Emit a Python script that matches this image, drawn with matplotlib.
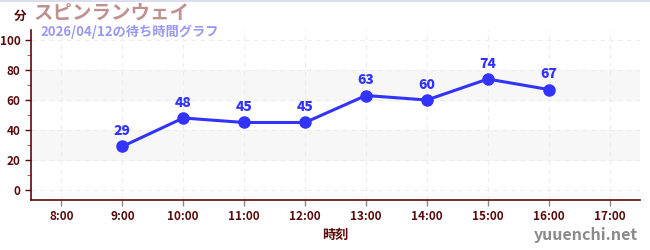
import numpy as np
import matplotlib.pyplot as plt
from matplotlib.ticker import MultipleLocator

plt.rcParams['font.family'] = ['Noto Sans CJK JP', 'DejaVu Sans']

# données
heures = [9, 10, 11, 12, 13, 14, 15, 16]
attente = [29, 48, 45, 45, 63, 60, 74, 67]
ticks_heures = [8, 9, 10, 11, 12, 13, 14, 15, 16, 17]
labels_heures = [f"{h}:00" for h in ticks_heures]
titre = "スピンランウェイ"
sous_titre = "2026/04/12の待ち時間グラフ"

axe_col = '#5a0a0a'
bleu = '#3333ff'

fig = plt.figure(figsize=(6.5, 2.5), dpi=100)
ax = fig.add_axes([31/650, 50/250, 609/650, 170/250])

ax.set_xlim(7.5, 17.5)
ax.set_ylim(-6.7, 106.7)

# bandes grises
ax.axhspan(20, 40, color='#f7f7f7', zorder=0)
ax.axhspan(60, 80, color='#f7f7f7', zorder=0)

ax.grid(True, color='#ececec', linestyle=(0, (4, 4)), linewidth=0.8, zorder=0)

ax.plot(heures, attente, color=bleu, linewidth=2.2, marker='o', markersize=8, zorder=3)
for h, v in zip(heures, attente):
    ax.annotate(str(v), (h, v), xytext=(0, 6), textcoords='offset points',
                ha='center', va='bottom', color=bleu, fontsize=10, fontweight='heavy')

ax.set_xticks(ticks_heures)
ax.set_xticklabels(labels_heures)
ax.yaxis.set_major_locator(MultipleLocator(20))
ax.yaxis.set_minor_locator(MultipleLocator(10))
ax.tick_params(axis='both', colors=axe_col, labelsize=8.5, width=1, length=4)
ax.tick_params(axis='y', which='minor', colors='#dd2222', length=3)
ax.tick_params(axis='x', colors='#888888', labelcolor=axe_col, length=4)
for lab in ax.get_xticklabels() + ax.get_yticklabels():
    lab.set_fontweight('bold')

for s in ['top', 'right']:
    ax.spines[s].set_visible(False)
for s in ['left', 'bottom']:
    ax.spines[s].set_color(axe_col)
    ax.spines[s].set_linewidth(1.2)

ax.set_xlabel('時刻', color=axe_col, fontsize=9.5, fontweight='bold', labelpad=3)

fig.text(14/650, 1 - 16/250, '分', color=axe_col, fontsize=9, fontweight='bold', ha='left', va='center')
fig.text(34/650, 1 - 13/250, titre, color='#c09090', fontsize=14, fontweight='bold', ha='left', va='center')
fig.text(40/650, 1 - 32/250, sous_titre, color='#9999ee', fontsize=9.5, fontweight='bold', ha='left', va='center')
fig.text(1 - 12/650, 1 - 235/250, 'yuuenchi.net', color='#8a8a8a', fontsize=11.5, fontweight='bold', ha='right', va='center')

fig.add_artist(plt.Line2D([0, 1], [0.998, 0.998], color='#ddddf0', linewidth=1.5))

fig.savefig('out.png', dpi=100)
